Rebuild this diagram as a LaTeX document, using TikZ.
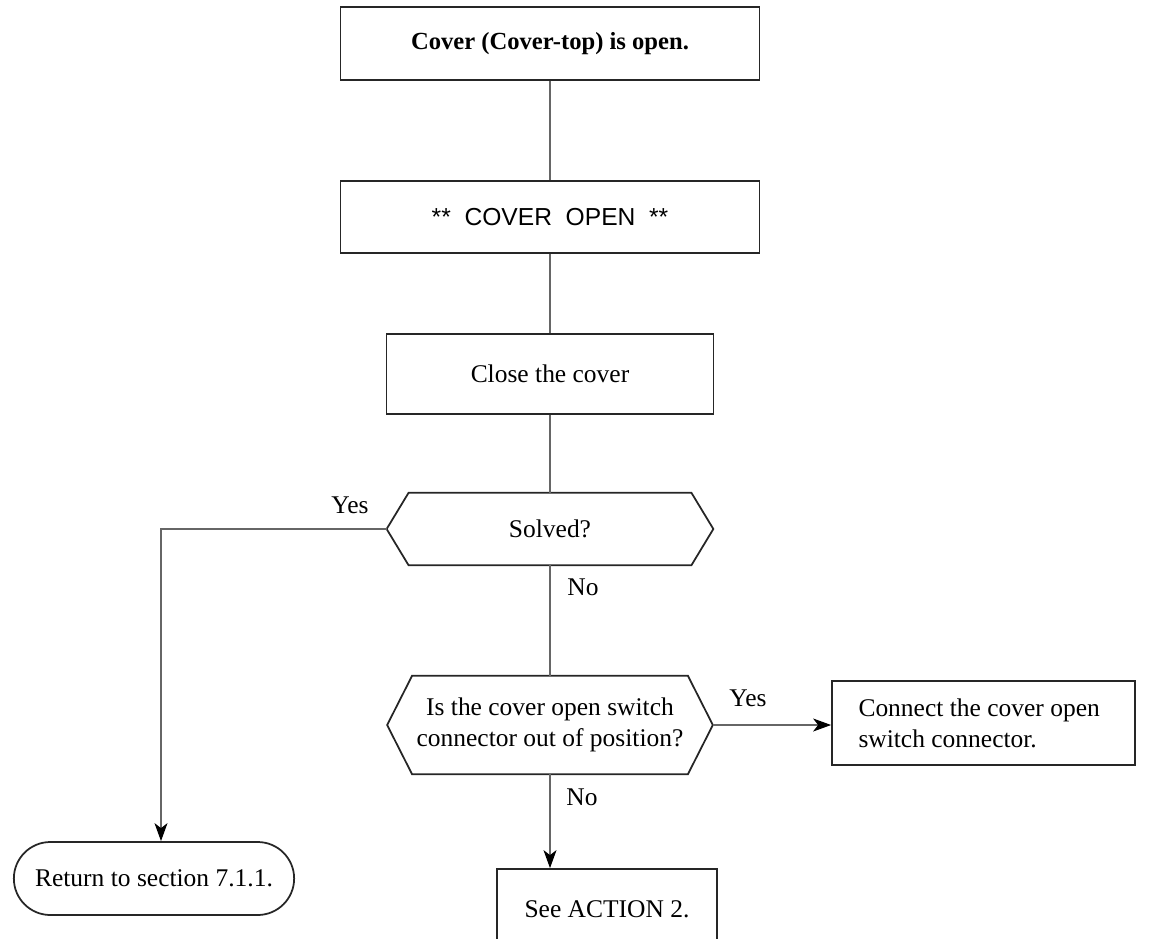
\documentclass[tikz,border=0pt]{standalone}
\usepackage{fontspec}
\setmainfont{Liberation Serif}
\newfontfamily\helvfont{Liberation Sans}
\usetikzlibrary{arrows.meta,shapes.misc}

\begin{document}
\begin{tikzpicture}[
  every node/.style={font=\fontsize{14.5}{17.5}\selectfont},
  box/.style={draw=black!85, line width=1pt, minimum height=1.46cm, align=center},
  hexline/.style={draw=black!85, line width=1pt},
  line/.style={draw=black!60, line width=0.9pt},
  arr/.style={line, -{Stealth[length=0.36cm,width=0.26cm,inset=0.1cm,color=black]}}
]
\clip (0,0) rectangle (23.02,-18.78);
% main column
\node[box, minimum width=8.38cm, font=\fontsize{14}{17}\selectfont\bfseries] (cover) at (11.0,-0.87) {Cover (Cover-top) is open.};
\node[box, minimum width=8.38cm, minimum height=1.44cm, font=\helvfont\fontsize{14}{17}\selectfont] (msg) at (11.0,-4.34) {**~~COVER~~OPEN~~**};
\node[box, minimum width=6.54cm, minimum height=1.6cm] (close) at (11.0,-7.48) {Close the cover};
\node[minimum width=6.52cm, minimum height=1.44cm] (solved) at (11.0,-10.58) {Solved?};
\draw[hexline] ([xshift=0.44cm]solved.north west) -- ([xshift=-0.44cm]solved.north east) -- (solved.east)
  -- ([xshift=-0.44cm]solved.south east) -- ([xshift=0.44cm]solved.south west) -- (solved.west) -- cycle;
\node[minimum width=6.5cm, minimum height=1.96cm, align=center] (switch) at (11.0,-14.5) {Is the cover open switch\\connector out of position?};
\draw[hexline] ([xshift=0.5cm]switch.north west) -- ([xshift=-0.5cm]switch.north east) -- (switch.east)
  -- ([xshift=-0.5cm]switch.south east) -- ([xshift=0.5cm]switch.south west) -- (switch.west) -- cycle;
\node[box, minimum width=4.4cm, minimum height=1.6cm] (action) at (12.14,-18.18) {See ACTION 2.};
% side branches
\node[box, minimum width=6.06cm, minimum height=1.68cm, text width=5.0cm, inner xsep=0.52cm, align=flush left] (connect) at (19.67,-14.46) {Connect the cover open\\switch connector.};
\node[box, rounded rectangle, minimum width=5.84cm, minimum height=1.46cm] (ret) at (3.08,-17.57) {Return to section 7.1.1.};
\coordinate (yesturn) at (3.22,-10.58);
% connectors
\draw[line] (cover) -- (msg);
\draw[line] (msg) -- (close);
\draw[line] (close) -- (solved);
\draw[arr] (solved.west) -- (yesturn) -- (yesturn |- ret.north);
\draw[line] (solved) -- (switch);
\draw[arr] (switch.east) -- (switch.east -| connect.west);
\draw[arr] (switch.south) -- (switch.south |- action.north);
% labels
\node (yesA) at (7.0,-10.1) {Yes};
\node (noA) at (11.66,-11.74) {No};
\node (yesB) at (14.96,-13.96) {Yes};
\node (noB) at (11.64,-15.94) {No};
\end{tikzpicture}
\end{document}
